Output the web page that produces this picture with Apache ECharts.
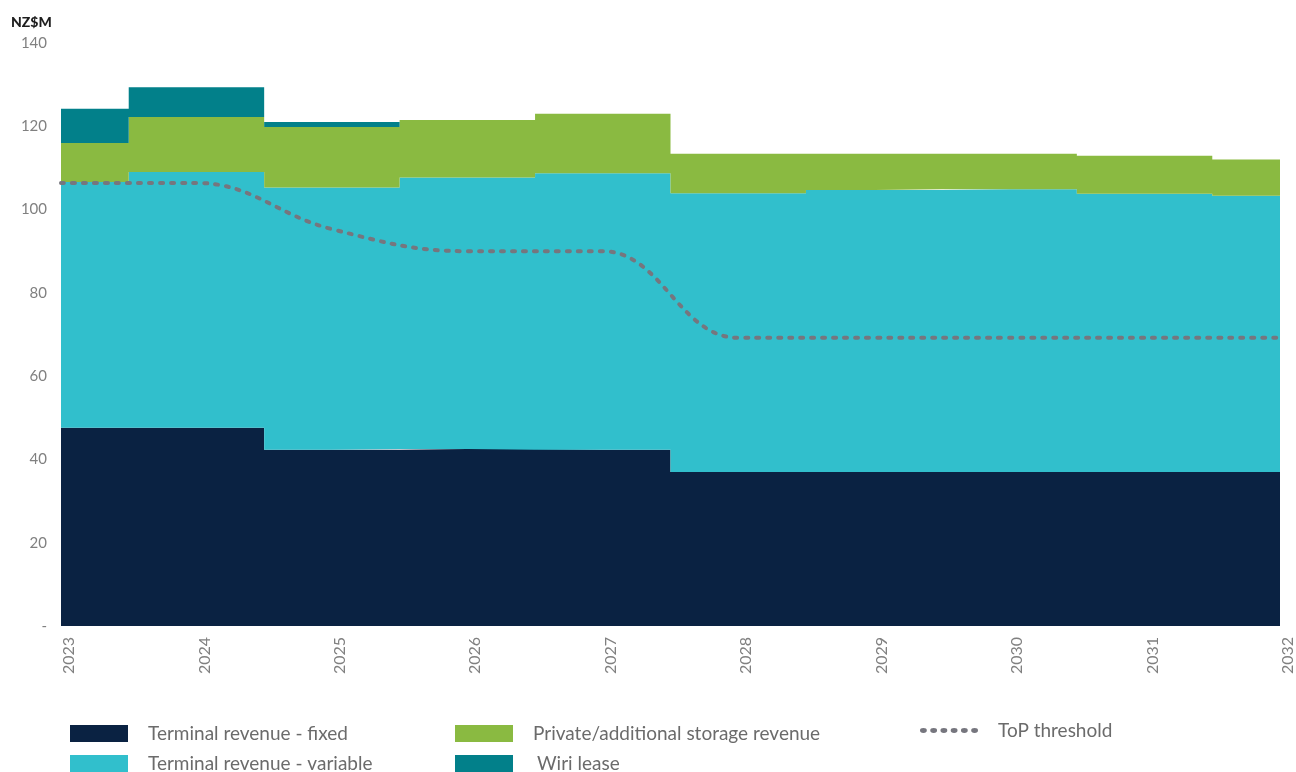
<!DOCTYPE html>
<html><head><meta charset="utf-8">
<script src="https://cdn.jsdelivr.net/npm/echarts@6/dist/echarts.min.js"></script>
<style>html,body{margin:0;padding:0;background:#fff}#c{width:1296px;height:772px}</style>
</head><body><div id="c"></div>
<script>
const years = ['2023','2024','2025','2026','2027','2028','2029','2030','2031','2032'];
const yTicks = [0,20,40,60,80,100,120,140];
const fixedRev = [47.6,47.6,42.3,42.5,42.3,37.0,37.0,37.0,37.0,37.0];
const variableRev = [59.0,61.4,63.0,65.2,66.4,66.9,67.7,67.9,66.8,66.3];
const storageRev = [9.4,13.2,14.5,13.8,14.3,9.5,8.7,8.5,9.1,8.7];
const wiriLease = [8.2,7.2,1.2,0,0,0,0,0,0,0];
const topThreshold = [106.4,106.4,95.3,90.0,90.0,69.2,69.2,69.2,69.2,69.2];

const FONT = 'Lato';
const chart = echarts.init(document.getElementById('c'));
function areaSeries(name, data, color){
  return {name, type:'line', stack:'rev', step:'middle', data, symbol:'none',
    lineStyle:{width:0}, areaStyle:{color, opacity:1}, itemStyle:{color}, emphasis:{disabled:true}};
}
const legendText = {color:'#6b6b6b', fontSize:19, fontFamily:FONT, padding:[0,0,0,15]};
function lg(name, left, top, extra){
  return Object.assign({data:[name], left, top, itemWidth:58, itemHeight:17, icon:'rect',
    textStyle:legendText, selectedMode:false}, extra||{});
}
let dp = 'path://';
for (let i = 0; i < 6; i++) {
  const cx = 3.5 + i * 10.5;
  dp += 'M' + (cx - 3.5) + ',2.5a3.5,2.5 0 1,0 7,0a3.5,2.5 0 1,0 -7,0';
}
chart.setOption({
  animation:false,
  title:{text:'NZ$M', left:6, top:10, textStyle:{fontSize:14, fontWeight:900, color:'#1e1e1e', fontFamily:FONT}},
  grid:{left:61, right:16, top:43, bottom:146},
  legend:[
    lg('Terminal revenue - fixed', 65, 719),
    lg('Terminal revenue - variable', 65, 749),
    lg('Private/additional storage revenue', 450, 719),
    lg('Wiri lease', 450, 749, {textStyle:Object.assign({}, legendText, {padding:[0,0,0,19]})}),
    lg('ToP threshold', 915, 716, {icon:dp, itemHeight:5, itemStyle:{color:'#76767e'}})
  ],
  xAxis:{type:'category', data:years, boundaryGap:false,
    axisLine:{show:false}, axisTick:{show:false}, splitLine:{show:false},
    axisLabel:{rotate:90, color:'#808080', fontSize:16, fontFamily:FONT, margin:11, interval:0,
      verticalAlign:'top'}},
  yAxis:{type:'value', min:yTicks[0], max:yTicks[yTicks.length-1], interval:20,
    axisLine:{show:false}, axisTick:{show:false}, splitLine:{show:false},
    axisLabel:{color:'#808080', fontSize:15, fontFamily:FONT, margin:14,
      formatter:v=> v===0 ? '-' : String(v)}},
  series:[
    areaSeries('Terminal revenue - fixed', fixedRev, '#0a2242'),
    areaSeries('Terminal revenue - variable', variableRev, '#31bfcc'),
    areaSeries('Private/additional storage revenue', storageRev, '#8aba41'),
    areaSeries('Wiri lease', wiriLease, '#02808a'),
    {name:'ToP threshold', type:'line', data:topThreshold, smooth:0.4, symbol:'none',
      itemStyle:{color:'#76767e'},
      lineStyle:{color:'#76767e', width:4, type:[3,8], cap:'round'}, z:5, emphasis:{disabled:true}}
  ]
});
</script></body></html>
